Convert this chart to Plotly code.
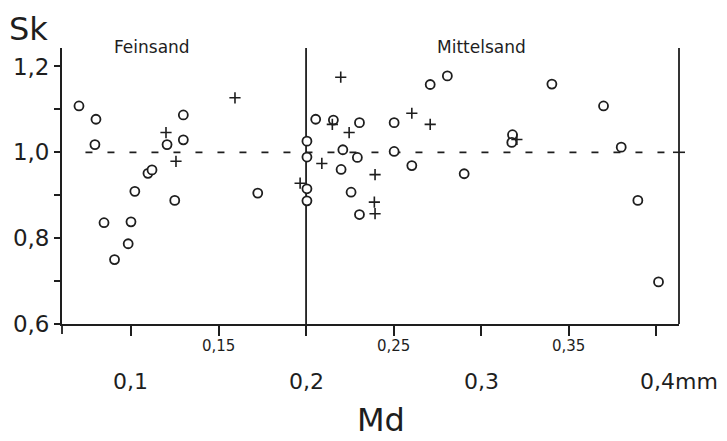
import plotly.graph_objects as go

# Data
circle_md = [0.0703, 0.0800, 0.0794, 0.0846, 0.0906, 0.0984, 0.1000, 0.1022, 0.1097, 0.1120,
             0.1206, 0.1250, 0.1299, 0.1299, 0.1724, 0.2005, 0.2005, 0.2005, 0.2005, 0.2055,
             0.2156, 0.2305, 0.2503, 0.2210, 0.2293, 0.2503, 0.2604, 0.2200, 0.2257, 0.2305,
             0.2709, 0.2807, 0.2903, 0.3179, 0.3175, 0.3404, 0.3699, 0.3800, 0.3895, 0.4013]
circle_sk = [1.108, 1.077, 1.018, 0.836, 0.750, 0.787, 0.838, 0.909, 0.951, 0.959,
             1.018, 0.888, 1.087, 1.029, 0.905, 1.026, 0.989, 0.915, 0.887, 1.077,
             1.075, 1.069, 1.069, 1.006, 0.988, 1.002, 0.969, 0.960, 0.907, 0.855,
             1.158, 1.178, 0.950, 1.041, 1.023, 1.159, 1.108, 1.012, 0.888, 0.698]

plus_md = [0.1200, 0.1257, 0.1594, 0.1966, 0.2198, 0.2150, 0.2246, 0.2604, 0.2090, 0.2394,
           0.2390, 0.2394, 0.2709, 0.3204]
plus_sk = [1.046, 0.979, 1.127, 0.928, 1.175, 1.065, 1.046, 1.091, 0.974, 0.948,
           0.884, 0.857, 1.065, 1.030]

y_ticks = [0.6, 0.7, 0.8, 0.9, 1.0, 1.1, 1.2]
y_ticktext = ["0,6", "", "0,8", "", "1,0", "", "1,2"]
x_ticks = [0.10, 0.15, 0.20, 0.25, 0.30, 0.35, 0.40]
x_major = [0.1, 0.2, 0.3]
x_major_text = ["0,1", "0,2", "0,3"]
x_minor = [0.15, 0.25, 0.35]
x_minor_text = ["0,15", "0,25", "0,35"]

X_MIN, X_MAX = 0.0606, 0.413
Y_MIN, Y_MAX = 0.6, 1.243
INK = "#1e1e1e"
FONT = "DejaVu Sans"

fig = go.Figure()
fig.add_trace(go.Scatter(
    x=circle_md, y=circle_sk, mode="markers",
    marker=dict(symbol="circle", size=9, color="white", line=dict(color=INK, width=1.8)),
    showlegend=False, hoverinfo="skip"))
fig.add_trace(go.Scatter(
    x=plus_md, y=plus_sk, mode="markers",
    marker=dict(symbol="cross-thin", size=8, color=INK, line=dict(color=INK, width=1.6)),
    showlegend=False, hoverinfo="skip"))

shapes = [
    dict(type="line", xref="x", yref="y", x0=0.2, x1=0.2, y0=Y_MIN, y1=Y_MAX,
         line=dict(color=INK, width=1.8), layer="below"),
    dict(type="line", xref="x", yref="y", x0=0.074, x1=X_MAX, y0=1.0, y1=1.0,
         line=dict(color=INK, width=1.8, dash="7px,15px"), layer="below"),
    dict(type="line", xref="paper", yref="paper", x0=1, x1=1, y0=0, y1=1,
         line=dict(color=INK, width=1.8)),
    dict(type="line", xref="paper", yref="y", xsizemode="pixel", xanchor=1,
         x0=-6, x1=6, y0=1.0, y1=1.0, line=dict(color=INK, width=1.6)),
    dict(type="line", xref="paper", yref="paper", ysizemode="pixel", yanchor=0,
         x0=0, x1=0, y0=0, y1=-10, line=dict(color=INK, width=1.8)),
]

annotations = []
for v, t in zip(x_minor, x_minor_text):
    annotations.append(dict(x=v, y=0, xref="x", yref="paper", text=t, showarrow=False,
                            yshift=-22, xanchor="center", yanchor="middle",
                            font=dict(family=FONT, size=15, color=INK)))
for v, t in zip(x_major, x_major_text):
    annotations.append(dict(x=v, y=0, xref="x", yref="paper", text=t, showarrow=False,
                            yshift=-57, xanchor="center", yanchor="middle",
                            font=dict(family=FONT, size=22, color=INK)))
annotations.append(dict(x=0.4, y=0, xref="x", yref="paper", text="0,4mm", showarrow=False,
                        yshift=-57, xshift=-18, xanchor="left", yanchor="middle",
                        font=dict(family=FONT, size=22, color=INK)))
annotations.append(dict(x=0.5, y=0, xref="paper", yref="paper", text="Md", showarrow=False,
                        yshift=-96, xshift=10, xanchor="center", yanchor="middle",
                        font=dict(family=FONT, size=32, color=INK)))
annotations.append(dict(x=0, y=1, xref="paper", yref="paper", text="Sk", showarrow=False,
                        xshift=-34, yshift=40, xanchor="center", yanchor="top",
                        font=dict(family=FONT, size=32, color=INK)))
annotations.append(dict(x=0.1121, y=1, xref="x", yref="paper", text="Feinsand", showarrow=False,
                        yshift=1, xanchor="center", yanchor="middle",
                        font=dict(family=FONT, size=17, color=INK)))
annotations.append(dict(x=0.3, y=1, xref="x", yref="paper", text="Mittelsand", showarrow=False,
                        yshift=1, xanchor="center", yanchor="middle",
                        font=dict(family=FONT, size=17, color=INK)))

# The page body adds an 8px offset, so the figure is sized to fit inside the window.
fig.update_layout(
    width=719, height=433, autosize=False,
    margin=dict(l=54, r=48, t=40, b=117, autoexpand=False),
    paper_bgcolor="white", plot_bgcolor="white",
    shapes=shapes, annotations=annotations,
    xaxis=dict(range=[X_MIN, X_MAX], showgrid=False, zeroline=False,
               showline=True, linecolor=INK, linewidth=1.8, automargin=False,
               tickmode="array", tickvals=x_ticks, ticktext=[""] * len(x_ticks),
               ticks="outside", ticklen=10, tickwidth=1.6, tickcolor=INK),
    yaxis=dict(range=[Y_MIN, Y_MAX], showgrid=False, zeroline=False,
               showline=True, linecolor=INK, linewidth=1.8, automargin=False,
               tickmode="array", tickvals=y_ticks, ticktext=y_ticktext,
               ticks="outside", ticklen=6, tickwidth=1.6, tickcolor=INK,
               tickfont=dict(family=FONT, size=23, color=INK)),
)

fig.write_html("out.html")
